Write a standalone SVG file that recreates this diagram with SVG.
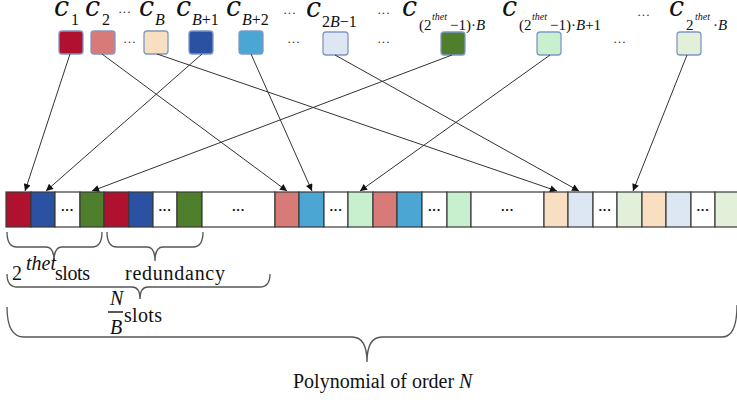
<svg xmlns="http://www.w3.org/2000/svg" width="737" height="403" viewBox="0 0 737 403">
<style>
.bx{stroke:#7F97C6;stroke-width:1.3}
.cl{stroke:#3a3a3a;stroke-width:1.2}
.c{font-family:"DejaVu Serif",serif;font-style:italic;font-size:27px;fill:#111}
.s{font-family:"Liberation Serif",serif;font-size:16px;fill:#111}
.s2{font-family:"Liberation Serif",serif;font-size:15px;fill:#111}
.sup{font-family:"Liberation Serif",serif;font-style:italic;font-size:10px;fill:#111}
.i{font-style:italic}
.el{font-family:"Liberation Serif",serif;font-size:13px;fill:#333}
.dd{font-family:"Liberation Sans",sans-serif;font-weight:bold;font-size:13px;fill:#111;text-anchor:middle}
.ln{stroke:#333;stroke-width:1;fill:none}
.br{stroke:#555;stroke-width:1.3;fill:none}
.lb{font-family:"Liberation Serif",serif;font-size:20px;fill:#111}
</style>
<defs>
<marker id="ah" viewBox="0 0 10 10" refX="10" refY="5" markerWidth="8" markerHeight="7" orient="auto" markerUnits="userSpaceOnUse">
<path d="M0,0 L10,5 L0,10 z" fill="#111"/>
</marker>
</defs>
<rect width="737" height="403" fill="#fff"/>

<!-- top nodes -->
<g id="c1"><rect class="bx" x="59" y="31" width="24" height="23" rx="3" fill="#B0112F"/>
<text class="c" x="54" y="16">c</text><text class="s" x="71" y="25">1</text></g>
<g id="c2"><rect class="bx" x="91" y="31" width="24" height="23" rx="3" fill="#D77A78"/>
<text class="c" x="85" y="16">c</text><text class="s" x="102" y="25">2</text></g>
<g id="cB"><rect class="bx" x="144" y="31" width="24" height="23" rx="3" fill="#F8DFC1"/>
<text class="c" x="139" y="16">c</text><text class="s i" x="155" y="25">B</text></g>
<g id="cB1"><rect class="bx" x="189" y="31" width="24" height="23" rx="3" fill="#2A51A2"/>
<text class="c" x="176" y="16">c</text><text class="s" x="192" y="25"><tspan class="i">B</tspan>+1</text></g>
<g id="cB2"><rect class="bx" x="239" y="31" width="24" height="23" rx="3" fill="#4BA6D3"/>
<text class="c" x="226" y="16">c</text><text class="s" x="242" y="25"><tspan class="i">B</tspan>+2</text></g>
<g id="c2B-1"><rect class="bx" x="323" y="32" width="25" height="23" rx="3" fill="#DDE7F3"/>
<text class="c" x="306" y="17">c</text><text class="s" x="322" y="27">2<tspan class="i">B</tspan>−1</text></g>
<g id="cT1B"><rect class="bx" x="441" y="32" width="24" height="23" rx="3" fill="#4F7E2D"/>
<text class="c" x="402" y="16">c</text><text class="s2" x="419" y="30">(2</text><text class="sup" x="432" y="20">thet</text><text class="s2" x="450" y="30">−1)·<tspan class="i">B</tspan></text></g>
<g id="cT1B1"><rect class="bx" x="537" y="32" width="24" height="23" rx="3" fill="#C8F0CF"/>
<text class="c" x="502" y="16">c</text><text class="s2" x="519" y="30">(2</text><text class="sup" x="532" y="20">thet</text><text class="s2" x="550" y="30">−1)·<tspan class="i">B</tspan>+1</text></g>
<g id="cTB"><rect class="bx" x="677" y="32" width="24" height="23" rx="3" fill="#E2EFD9"/>
<text class="c" x="669" y="16">c</text><text class="s2" x="686" y="30">2</text><text class="sup" x="695" y="20">thet</text><text class="s2" x="713" y="30">·<tspan class="i">B</tspan></text></g>

<g id="ellipses">
<text class="el" x="118" y="16">···</text>
<text class="el" x="123" y="46">···</text>
<text class="el" x="283" y="17">···</text>
<text class="el" x="287" y="46">···</text>
<text class="el" x="377" y="17">···</text>
<text class="el" x="377" y="46">···</text>
<text class="el" x="637" y="19">···</text>
<text class="el" x="613" y="46">···</text>
</g>

<!-- bar -->
<g id="bar">
<rect class="cl" x="6" y="192" width="25" height="35" fill="#B0112F"/>
<rect class="cl" x="31" y="192" width="24" height="35" fill="#2A51A2"/>
<rect class="cl" x="55" y="192" width="25" height="35" fill="#fff"/>
<rect class="cl" x="80" y="192" width="24" height="35" fill="#4F7E2D"/>
<rect class="cl" x="104" y="192" width="25" height="35" fill="#B0112F"/>
<rect class="cl" x="129" y="192" width="24" height="35" fill="#2A51A2"/>
<rect class="cl" x="153" y="192" width="24" height="35" fill="#fff"/>
<rect class="cl" x="177" y="192" width="25" height="35" fill="#4F7E2D"/>
<rect class="cl" x="202" y="192" width="73" height="35" fill="#fff"/>
<rect class="cl" x="275" y="192" width="24" height="35" fill="#D77A78"/>
<rect class="cl" x="299" y="192" width="25" height="35" fill="#4BA6D3"/>
<rect class="cl" x="324" y="192" width="24" height="35" fill="#fff"/>
<rect class="cl" x="348" y="192" width="25" height="35" fill="#C8F0CF"/>
<rect class="cl" x="373" y="192" width="24" height="35" fill="#D77A78"/>
<rect class="cl" x="397" y="192" width="25" height="35" fill="#4BA6D3"/>
<rect class="cl" x="422" y="192" width="25" height="35" fill="#fff"/>
<rect class="cl" x="447" y="192" width="24" height="35" fill="#C8F0CF"/>
<rect class="cl" x="471" y="192" width="73" height="35" fill="#fff"/>
<rect class="cl" x="544" y="192" width="24" height="35" fill="#F8DFC1"/>
<rect class="cl" x="568" y="192" width="25" height="35" fill="#DDE7F3"/>
<rect class="cl" x="593" y="192" width="24" height="35" fill="#fff"/>
<rect class="cl" x="617" y="192" width="25" height="35" fill="#E2EFD9"/>
<rect class="cl" x="642" y="192" width="24" height="35" fill="#F8DFC1"/>
<rect class="cl" x="666" y="192" width="25" height="35" fill="#DDE7F3"/>
<rect class="cl" x="691" y="192" width="24" height="35" fill="#fff"/>
<rect class="cl" x="715" y="192" width="25" height="35" fill="#E2EFD9"/>
<text class="dd" x="67.5" y="214">···</text>
<text class="dd" x="165" y="214">···</text>
<text class="dd" x="238.5" y="214">···</text>
<text class="dd" x="336" y="214">···</text>
<text class="dd" x="434.5" y="214">···</text>
<text class="dd" x="507.5" y="214">···</text>
<text class="dd" x="605" y="214">···</text>
<text class="dd" x="703" y="214">···</text>
</g>

<!-- connectors -->
<g id="connectors">
<line class="ln" x1="70" y1="54" x2="25" y2="191" marker-end="url(#ah)"/>
<line class="ln" x1="102" y1="54" x2="287" y2="191" marker-end="url(#ah)"/>
<line class="ln" x1="157" y1="54" x2="557" y2="191" marker-end="url(#ah)"/>
<line class="ln" x1="202" y1="54" x2="46" y2="191" marker-end="url(#ah)"/>
<line class="ln" x1="251" y1="54" x2="312" y2="191" marker-end="url(#ah)"/>
<line class="ln" x1="335" y1="55" x2="579" y2="191" marker-end="url(#ah)"/>
<line class="ln" x1="452" y1="55" x2="92" y2="191" marker-end="url(#ah)"/>
<line class="ln" x1="550" y1="55" x2="360" y2="191" marker-end="url(#ah)"/>
<line class="ln" x1="687" y1="55" x2="633" y2="191" marker-end="url(#ah)"/>
</g>

<!-- braces -->
<g id="braces">
<path class="br" d="M7,232 Q7,247 17,247 L46,247 Q54,247 54,261 Q54,247 62,247 L92,247 Q102,247 102,232"/>
<path class="br" d="M107,232 Q107,247 117,247 L147,247 Q155,247 155,261 Q155,247 163,247 L193,247 Q203,247 203,232"/>
<path class="br" d="M7,274 Q7,287 17,287 L132,287 Q140,287 140,299 Q140,287 148,287 L260,287 Q270,287 270,274"/>
<path class="br" d="M7,307 Q7,337 24,337 L352,337 Q367,337 367,362 Q367,337 382,337 L722,337 Q737,337 737,305"/>
</g>

<g id="labels">
<text class="lb" x="12" y="280" font-size="21">2</text>
<text class="lb" x="26" y="270" font-size="14" font-style="italic">thet</text>
<text class="lb" x="55" y="280" textLength="35">slots</text>
<text class="lb" x="125" y="280" textLength="100">redundancy</text>
<text class="lb i" x="110" y="305" font-size="18">N</text>
<line x1="108" y1="312" x2="123" y2="312" stroke="#111" stroke-width="1.4"/>
<text class="lb i" x="110" y="334" font-size="18">B</text>
<text class="lb" x="124" y="322" textLength="38">slots</text>
<text class="lb" x="293" y="388" font-size="19">Polynomial of order <tspan class="i">N</tspan></text>
</g>
</svg>
